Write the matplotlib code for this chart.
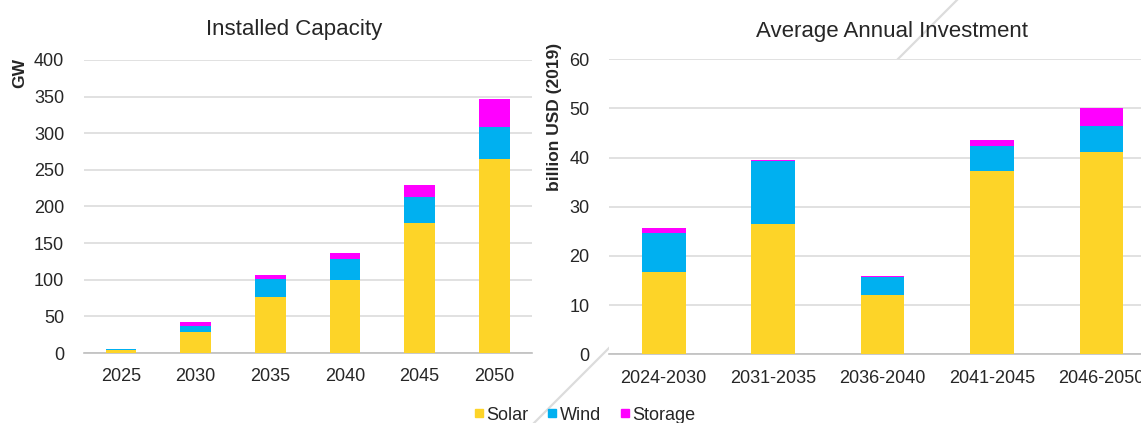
import numpy as np
import matplotlib
matplotlib.use('Agg')
import matplotlib.pyplot as plt
from matplotlib.lines import Line2D

plt.rcParams['font.family'] = ['Liberation Sans', 'DejaVu Sans']

# 装机容量 (GW)
years = ['2025', '2030', '2035', '2040', '2045', '2050']
cap_solar = [4, 29, 77, 100, 177.5, 264.5]
cap_wind = [1, 8, 24.5, 29, 35.5, 43.5]
cap_storage = [1, 5, 5.5, 7.5, 16, 38.5]

# 年均投资 (billion USD 2019)
periods = ['2024-2030', '2031-2035', '2036-2040', '2041-2045', '2046-2050']
inv_solar = [16.8, 26.5, 12.1, 37.3, 41.2]
inv_wind = [7.9, 12.8, 3.6, 5.1, 5.3]
inv_storage = [1.0, 0.3, 0.3, 1.2, 3.5]

C_SOLAR = '#FDD428'
C_WIND = '#00B0F0'
C_STORAGE = '#FF00FF'
W, H = 1141, 423


def style_axis(ax, ymax, ystep, pad_y):
    ax.set_ylim(0, ymax)
    ax.set_yticks(np.arange(0, ymax + 1, ystep))
    for s in ['top', 'right', 'left']:
        ax.spines[s].set_visible(False)
    ax.spines['bottom'].set_color('#bfbfbf')
    ax.spines['bottom'].set_linewidth(1.2)
    ax.yaxis.grid(True, color='#d9d9d9', linewidth=1.1)
    ax.set_axisbelow(True)
    ax.tick_params(axis='both', length=0, labelsize=13, colors='#262626')
    ax.tick_params(axis='y', pad=pad_y)
    ax.tick_params(axis='x', pad=11)


def stacked(ax, labels, solar, wind, storage, width):
    x = np.arange(len(labels))
    s = np.array(solar)
    w = np.array(wind)
    st = np.array(storage)
    ax.bar(x, s, width, color=C_SOLAR, zorder=3)
    ax.bar(x, w, width, bottom=s, color=C_WIND, zorder=3)
    ax.bar(x, st, width, bottom=s + w, color=C_STORAGE, zorder=3)
    ax.set_xticks(x)
    ax.set_xticklabels(labels)


fig = plt.figure(figsize=(W / 100, H / 100), dpi=100)

# 背景装饰斜线
fig.add_artist(Line2D([957 / W, 534 / W], [1, 0], color='#dcdcdc',
                      linewidth=1.6, transform=fig.transFigure, zorder=0))

ax1 = fig.add_axes([83.6 / W, (H - 353) / H, 448 / W, 293 / H])
stacked(ax1, years, cap_solar, cap_wind, cap_storage, 0.41)
style_axis(ax1, 400, 50, 14)
ax1.set_xlim(-0.5, 5.5)

ax2 = fig.add_axes([609 / W, (H - 354.3) / H, (W - 609) / W, 295 / H])
stacked(ax2, periods, inv_solar, inv_wind, inv_storage, 0.4)
style_axis(ax2, 60, 10, 14)
ax2.set_xlim(-0.5, (W - 663.8) / 109.4)

fig.text(294.6 / W, 1 - 30 / H, 'Installed Capacity', ha='center', va='center',
         fontsize=16, color='#262626')
fig.text(891.5 / W, 1 - 31 / H, 'Average Annual Investment', ha='center', va='center',
         fontsize=16, color='#262626')
fig.text(19.6 / W, 1 - 58 / H, 'GW', rotation=90, ha='center', va='top',
         fontsize=12.5, fontweight='bold', color='#262626')
fig.text(554 / W, 1 - 43 / H, 'billion USD (2019)', rotation=90, ha='center', va='top',
         fontsize=12.5, fontweight='bold', color='#262626')

handles = [Line2D([], [], marker='s', linestyle='none', markersize=6, color=c)
           for c in [C_SOLAR, C_WIND, C_STORAGE]]
fig.legend(handles, ['Solar', 'Wind', 'Storage'], loc='center', ncol=3,
           bbox_to_anchor=(584 / W, 1 - 415 / H), frameon=False, fontsize=13,
           handletextpad=0.05, columnspacing=1.0, handlelength=0.7,
           labelcolor='#262626')

plt.savefig('out.png', dpi=100)
